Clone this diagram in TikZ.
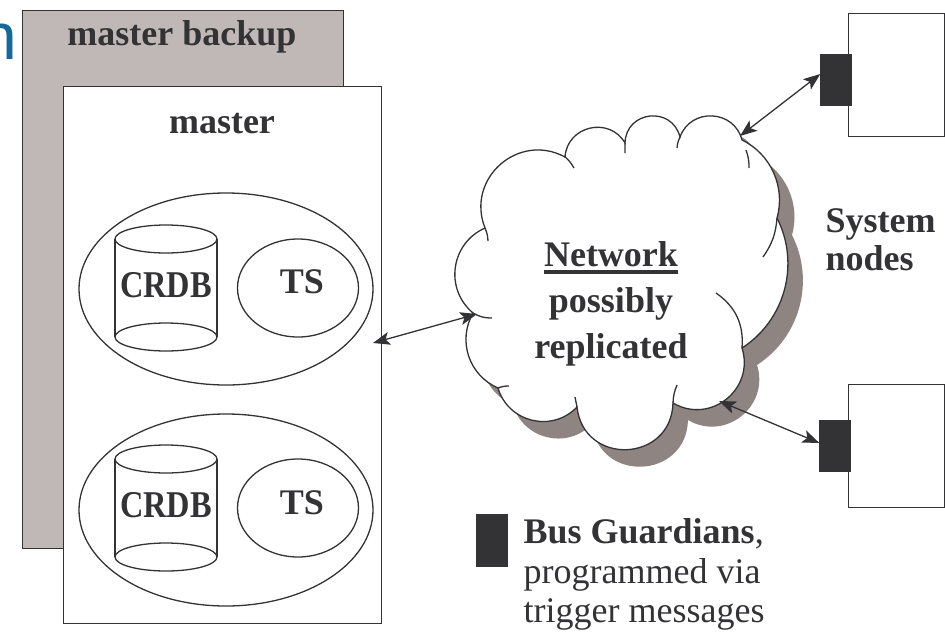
\documentclass[tikz,border=0pt]{standalone}
\usepackage{fontspec}
\setmainfont{Liberation Serif}
\setsansfont{Liberation Sans}
\usepackage{graphicx}
\usetikzlibrary{arrows.meta,positioning,shapes.geometric}
\definecolor{ink}{HTML}{333336}
\definecolor{backup}{HTML}{C0B8B6}
\definecolor{cloudshade}{HTML}{8E8482}
\definecolor{titleblue}{HTML}{14699C}
\newlength{\ulwd}
\newcommand{\thickul}[1]{\settowidth{\ulwd}{#1}\rlap{\rule[-7pt]{\ulwd}{3.5pt}}#1}
\newcommand{\netcloud}{(485,228) to[bend left=70,looseness=1.27] (565,157)
  to[bend left=73,looseness=1.3] (625,143)
  to[bend left=82,looseness=1.5] (680,137)
  to[bend left=73,looseness=1.3] (742,140)
  to[bend left=40,looseness=0.96] (777,218)
  to[bend left=42,looseness=0.98] (742,348)
  to[bend left=69,looseness=1.25] (673,403)
  to[bend left=86,looseness=1.59] (577,407)
  to[bend left=60,looseness=1.13] (498,388)
  to[bend left=48,looseness=1.03] (473,313)
  to[bend left=58,looseness=1.12] (485,228) -- cycle}
\tikzset{
  lbl/.style={inner sep=0pt,anchor=base},
  guard/.style={fill=ink,draw=ink,minimum width=30,minimum height=50,inner sep=0pt},
  sysbox/.style={draw,fill=white,minimum width=96,minimum height=123,anchor=north west,inner sep=0pt},
  tsoval/.style={ellipse,draw,minimum width=121,minimum height=98,inner sep=0pt},
  grpoval/.style={ellipse,draw,minimum width=294,minimum height=192,inner sep=0pt},
  link/.style={arrows={Stealth[length=17pt,width=13pt,inset=4pt]-Stealth[length=17pt,width=13pt,inset=4pt]}}
}
\begin{document}
\begin{tikzpicture}[x=1pt,y=-1pt,line width=1.3pt,color=ink,
  font=\fontsize{36}{40}\selectfont\bfseries]
\useasboundingbox (0,0) rectangle (945,640);
% title fragment
\node[font=\sffamily\mdseries\fontsize{66}{66}\selectfont,text=titleblue,inner sep=0pt,anchor=base east] (ttl) at (18,59) {n};
% master and its backup
\node[draw,fill=backup,minimum width=321,minimum height=538,anchor=north west,inner sep=0pt] (bkp) at (22,10) {};
\node[lbl] (bkplbl) at (182,45) {master backup};
\node[draw,fill=white,minimum width=318,minimum height=537,anchor=north west,inner sep=0pt] (mst) at (63,86) {};
\node[lbl] (mstlbl) at (222,133) {master};
% upper group
\node[grpoval] (grpA) at (226,289) {};
\draw (166,239) ellipse [x radius=51, y radius=14];
\draw (166,337) ellipse [x radius=51, y radius=14];
\draw (115,239) -- (115,337) (217,239) -- (217,337);
\node[lbl] (dbAlbl) at (166,297) {\scalebox{0.9}[1.05]{CRDB}};
\node[tsoval] (tsA) at (298,288) {};
\node[lbl] (tsAlbl) at (302,293) {TS};
% lower group
\node[grpoval] (grpB) at (226,510) {};
\draw (166,459) ellipse [x radius=51, y radius=14];
\draw (166,557) ellipse [x radius=51, y radius=14];
\draw (115,459) -- (115,557) (217,459) -- (217,557);
\node[lbl] (dbBlbl) at (166,517) {\scalebox{0.9}[1.05]{CRDB}};
\node[tsoval] (tsB) at (298,508) {};
\node[lbl] (tsBlbl) at (302,514) {TS};
% network cloud
\fill[cloudshade,shift={(15,17)}] \netcloud;
\draw[fill=white] \netcloud;
\draw (485,228) to[bend left=10] (488,241)
      (564,156) to[bend left=10] (574,168)
      (625,143) -- (625,153)
      (680,137) to[bend right=10] (677,148)
      (746,150) to[bend left=10] (749,168)
      (777,218) to[bend left=15] (763,257)
      (716,293) to[bend left=30] (742,348)
      (677,385) to[bend right=10] (673,403)
      (577,407) -- (575,397)
      (498,388) to[bend left=10] (509,386)
      (473,313) to[bend right=15] (492,318);
\node[align=center,inner sep=0pt,anchor=north,font=\fontsize{36}{46}\selectfont\bfseries] (netlbl) at (611,241) {\thickul{Network}\\possibly\\replicated};
\coordinate (netW) at (477,314);
\coordinate (netNE) at (740,136);
\coordinate (netSE) at (719,401);
\coordinate (mport) at (373,343);
% system nodes
\node[sysbox] (sysA) at (848,13) {};
\node[sysbox] (sysB) at (848,384) {};
\node[guard] (bgA) at (836,80) {};
\node[guard] (bgB) at (835,446) {};
\node[inner sep=0pt,anchor=north west,align=left,font=\fontsize{36}{38}\selectfont\bfseries] (syslbl) at (825,208) {System\\nodes};
% links
\draw[link] (mport) -- (netW);
\draw[link] (netNE) -- ([yshift=6pt]bgA.west);
\draw[link] (netSE) -- ([yshift=3pt]bgB.west);
% key
\node[guard,minimum height=51] (bgkey) at (492,540.5) {};
\node[anchor=north west,align=left,inner sep=0pt,font=\fontsize{36}{39.5}\selectfont\mdseries] (keylbl) at (523,518) {{\bfseries Bus Guardians},\\programmed via\\trigger messages};
\end{tikzpicture}
\end{document}
